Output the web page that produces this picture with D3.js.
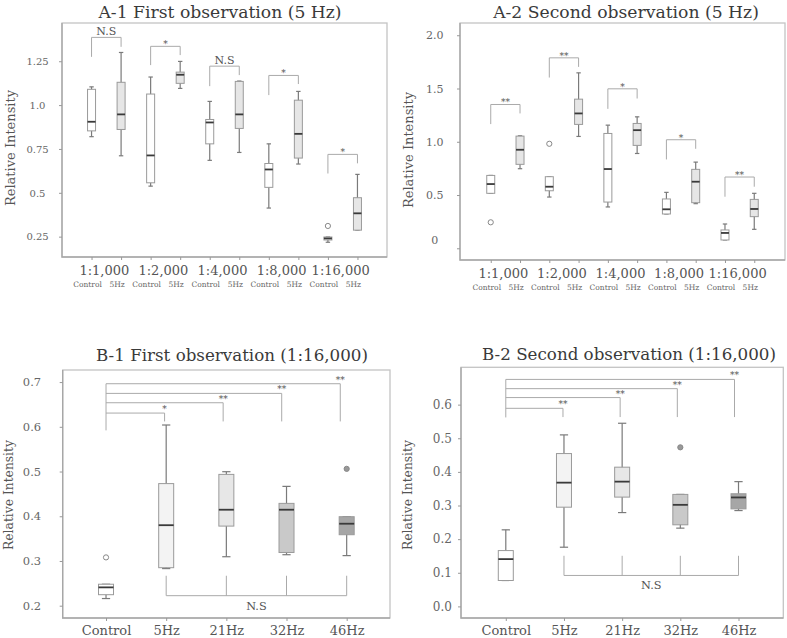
<!DOCTYPE html>
<html>
<head>
<meta charset="utf-8">
<script src="https://cdn.jsdelivr.net/npm/d3@7"></script>
<style>
	body { margin: 0; background: #fff; }
	svg { display: block; }
</style>
</head>
<body>
<div id="chart"></div>
<script>
// ---- A panels: dilution x (Control, 5Hz) ----
const dilutions = ['1:1,000', '1:2,000', '1:4,000', '1:8,000', '1:16,000'];
const pairGroups = ['Control', '5Hz'];

// box stats: [whiskerLow, q1, median, q3, whiskerHigh]
const a1Control = [
	[0.82, 0.853, 0.905, 1.09, 1.104],
	[0.538, 0.557, 0.713, 1.063, 1.16],
	[0.685, 0.779, 0.901, 0.918, 1.021],
	[0.413, 0.531, 0.633, 0.667, 0.779],
	[0.218, 0.231, 0.24, 0.248, 0.248]
];
const a1Hz5 = [
	[0.711, 0.861, 0.947, 1.13, 1.3],
	[1.095, 1.124, 1.173, 1.188, 1.249],
	[0.73, 0.867, 0.947, 1.135, 1.137],
	[0.664, 0.698, 0.836, 1.028, 1.078],
	[0.287, 0.287, 0.383, 0.472, 0.605]
];
// outliers: [dilution index, group index, value]
const a1Outliers = [[4, 0, 0.311]];
// brackets: [bar level, left leg end, right leg end, label]
const a1Brackets = [
	[1.386, 1.275, 1.332, 'N.S'],
	[1.335, 1.228, 1.285, '*'],
	[1.222, 1.108, 1.171, 'N.S'],
	[1.169, 1.057, 1.12, '*'],
	[0.719, 0.61, 0.668, '*']
];
const a1Ticks = [0.25, 0.5, 0.75, 1.0, 1.25];
const a1TickLabels = ['0.25', '0.5', '0.75', '1.0', '1.25'];

const a2Control = [
	[0.516, 0.516, 0.603, 0.684, 0.684],
	[0.481, 0.54, 0.578, 0.672, 0.672],
	[0.388, 0.434, 0.744, 1.078, 1.156],
	[0.322, 0.322, 0.366, 0.463, 0.525],
	[0.078, 0.078, 0.144, 0.172, 0.228]
];
const a2Hz5 = [
	[0.747, 0.788, 0.925, 1.053, 1.056],
	[1.05, 1.163, 1.266, 1.4, 1.647],
	[0.89, 0.966, 1.109, 1.172, 1.234],
	[0.419, 0.428, 0.625, 0.741, 0.809],
	[0.178, 0.297, 0.369, 0.459, 0.516]
];
const a2Outliers = [[0, 0, 0.244], [1, 0, 0.981]];
const a2Brackets = [
	[1.35, 1.166, 1.266, '**'],
	[1.788, 1.603, 1.703, '**'],
	[1.497, 1.309, 1.406, '*'],
	[1.019, 0.834, 0.934, '*'],
	[0.669, 0.484, 0.578, '**']
];
const a2Ticks = [0, 0.5, 1.0, 1.5, 2.0];
const a2TickLabels = ['0', '0.5', '1.0', '1.5', '2.0'];

// ---- B panels: frequency at 1:16,000 ----
const frequencies = ['Control', '5Hz', '21Hz', '32Hz', '46Hz'];
const freqFills = ['#ffffff', '#f3f3f3', '#e7e7e7', '#c9c9c9', '#a6a6a6'];

const b1Stats = [
	[0.216, 0.2246, 0.241, 0.248, 0.248],
	[0.283, 0.285, 0.38, 0.473, 0.604],
	[0.3095, 0.378, 0.4146, 0.4936, 0.4996],
	[0.314, 0.319, 0.4146, 0.4288, 0.4668],
	[0.312, 0.3587, 0.3833, 0.399, 0.399]
];
// outliers: [category index, value, filled]
const b1Outliers = [[0, 0.308, false], [4, 0.506, true]];
const b1SigLevels = [0.6307, 0.6538, 0.6747, 0.6963];
const b1SigLabels = ['*', '**', '**', '**'];
const b1SigLegs = [0.592, 0.612]; // control leg end, target leg end
const b1NsLegs = [0.267, 0.2224]; // leg top, bar level
const b1Ticks = [0.2, 0.3, 0.4, 0.5, 0.6, 0.7];

const b2Stats = [
	[0.077, 0.077, 0.1406, 0.166, 0.2277],
	[0.176, 0.295, 0.368, 0.4545, 0.51],
	[0.279, 0.325, 0.371, 0.414, 0.5446],
	[0.2327, 0.2426, 0.302, 0.333, 0.333],
	[0.285, 0.29, 0.324, 0.335, 0.371]
];
const b2Outliers = [[3, 0.473, true]];
const b2SigLevels = [0.589, 0.621, 0.6475, 0.675];
const b2SigLabels = ['**', '**', '**', '**'];
const b2SigLegs = [0.562, 0.563];
const b2NsLegs = [0.1505, 0.092];
const b2Ticks = [0, 0.1, 0.2, 0.3, 0.4, 0.5, 0.6];

const W = 787;
const H = 638;
const FONT = "'DejaVu Serif', 'Liberation Serif', serif";

const svg = d3
	.select('#chart')
	.append('svg')
	.attr('width', W)
	.attr('height', H)
	.attr('font-family', FONT);

const boxColors = { stroke: '#9a9a9a', whisker: '#7a7a7a', median: '#3a3a3a' };

const addText = (g, x, y, txt, size, fill, anchor = 'middle') =>
	g.append('text')
		.attr('x', x)
		.attr('y', y)
		.attr('text-anchor', anchor)
		.attr('fill', fill)
		.attr('font-family', FONT)
		.attr('font-size', size)
		.text(txt);

const drawFrame = (g, x0, y0, x1, y1) => {
	g.append('rect')
		.attr('x', x0)
		.attr('y', y0)
		.attr('width', x1 - x0)
		.attr('height', y1 - y0)
		.attr('fill', 'none')
		.attr('stroke', '#c4c4c4')
		.attr('stroke-width', 1.3);
	g.append('path')
		.attr('d', `M${x0},${y0}V${y1}H${x1}`)
		.attr('fill', 'none')
		.attr('stroke', '#a6a6a6')
		.attr('stroke-width', 1.3);
};

const drawYAxis = (g, yScale, x0, ticks, labels, labelCenter, fontSize) => {
	const axis = d3
		.axisLeft(yScale)
		.tickValues(ticks)
		.tickSize(3)
		.tickFormat((d, i) => labels[i]);
	const ag = g.append('g').attr('transform', `translate(${x0},0)`).call(axis);
	ag.attr('font-family', FONT).attr('font-size', fontSize);
	ag.select('.domain').remove();
	ag.selectAll('line').attr('stroke', '#999');
	ag.selectAll('text')
		.attr('x', -(x0 - labelCenter))
		.attr('text-anchor', 'middle')
		.attr('fill', '#666');
	return ag;
};

const drawBox = (g, x, yScale, s, bw, fill) => {
	const [lo, q1, med, q3, hi] = s;
	const cap = bw * 0.55;
	g.append('line')
		.attr('x1', x).attr('x2', x)
		.attr('y1', yScale(hi)).attr('y2', yScale(lo))
		.attr('stroke', boxColors.whisker).attr('stroke-width', 1.2);
	[lo, hi].forEach((v) => {
		g.append('line')
			.attr('x1', x - cap / 2).attr('x2', x + cap / 2)
			.attr('y1', yScale(v)).attr('y2', yScale(v))
			.attr('stroke', boxColors.whisker).attr('stroke-width', 1.2);
	});
	g.append('rect')
		.attr('x', x - bw / 2)
		.attr('y', yScale(q3))
		.attr('width', bw)
		.attr('height', Math.max(1, yScale(q1) - yScale(q3)))
		.attr('fill', fill)
		.attr('stroke', boxColors.stroke)
		.attr('stroke-width', 1);
	g.append('line')
		.attr('x1', x - bw / 2).attr('x2', x + bw / 2)
		.attr('y1', yScale(med)).attr('y2', yScale(med))
		.attr('stroke', boxColors.median).attr('stroke-width', 1.8);
};

const drawYTitle = (g, cx, cy, size) => {
	g.append('text')
		.attr('transform', `translate(${cx},${cy}) rotate(-90)`)
		.attr('text-anchor', 'middle')
		.attr('dominant-baseline', 'central')
		.attr('fill', '#555')
		.attr('font-family', FONT)
		.attr('font-size', size)
		.text('Relative Intensity');
};

// ---------- A panel ----------
const drawPanelA = (p) => {
	const g = svg.append('g');
	const slots = [];
	dilutions.forEach((d) => pairGroups.forEach((grp) => slots.push(d + '|' + grp)));

	const xScale = d3.scalePoint().domain(slots).range([p.x0, p.x1]).padding(p.pad);
	const yScale = d3.scaleLinear().domain(p.yDomain).range([p.y1, p.y0]);

	drawFrame(g, p.x0, p.y0, p.x1, p.y1);
	const ag = drawYAxis(g, yScale, p.x0, p.ticks, p.tickLabels, p.labelCenter, p.tickSize);
	if (p.zeroShift) {
		ag.selectAll('.tick text').filter((d) => d === 0).attr('y', -p.zeroShift);
	}

	// x ticks
	g.append('g')
		.attr('transform', `translate(0,${p.y1})`)
		.call(d3.axisBottom(xScale).tickSize(3).tickFormat(''))
		.call((ax) => ax.select('.domain').remove())
		.call((ax) => ax.selectAll('line').attr('stroke', '#999'));

	dilutions.forEach((d, i) => {
		const xc = xScale(d + '|Control');
		const xh = xScale(d + '|5Hz');
		drawBox(g, xc, yScale, p.control[i], p.bw, '#ffffff');
		drawBox(g, xh, yScale, p.hz5[i], p.bw, '#e6e6e6');

		addText(g, (xc + xh) / 2 - 2, p.y1 + p.labelDy, d, 13, '#555');
		pairGroups.forEach((grp) => {
			addText(g, xScale(d + '|' + grp) - 4, p.y1 + p.subDy, grp, 7.5, '#666');
		});

		const [level, leftEnd, rightEnd, label] = p.brackets[i];
		g.append('path')
			.attr('d', `M${xc},${yScale(leftEnd)}V${yScale(level)}H${xh}V${yScale(rightEnd)}`)
			.attr('fill', 'none')
			.attr('stroke', '#aaa')
			.attr('stroke-width', 1);
		const isNs = label === 'N.S';
		addText(g, (xc + xh) / 2, yScale(level) - (isNs ? 2 : -1), label, isNs ? 11 : 9, '#555');
	});

	p.outliers.forEach(([di, gi, v]) => {
		g.append('circle')
			.attr('cx', xScale(dilutions[di] + '|' + pairGroups[gi]))
			.attr('cy', yScale(v))
			.attr('r', 2.6)
			.attr('fill', '#fff')
			.attr('stroke', '#888')
			.attr('stroke-width', 1);
	});

	addText(g, p.titleX, p.titleY, p.title, 17.2, '#3a3a3a');
	drawYTitle(g, p.yTitleX, p.yTitleY, 13);
};

// ---------- B panel ----------
const drawPanelB = (p) => {
	const g = svg.append('g');
	const xScale = d3.scalePoint().domain(frequencies).range([p.x0, p.x1]).padding(p.pad);
	const yScale = d3.scaleLinear().domain(p.yDomain).range([p.y1, p.y0]);

	drawFrame(g, p.x0, p.y0, p.x1, p.y1);
	drawYAxis(g, yScale, p.x0, p.ticks, p.ticks.map((d) => d3.format('.1f')(d)), p.labelCenter, p.tickSize);

	g.append('g')
		.attr('transform', `translate(0,${p.y1})`)
		.call(d3.axisBottom(xScale).tickSize(3))
		.call((ax) => ax.attr('font-family', FONT).attr('font-size', 13))
		.call((ax) => ax.select('.domain').remove())
		.call((ax) => ax.selectAll('line').attr('stroke', '#999'))
		.call((ax) => ax.selectAll('text').attr('y', 17).attr('dy', 0).attr('fill', '#555'));

	frequencies.forEach((f, i) => {
		drawBox(g, xScale(f), yScale, p.stats[i], p.bw, freqFills[i]);
	});

	p.outliers.forEach(([ci, v, filled]) => {
		g.append('circle')
			.attr('cx', xScale(frequencies[ci]))
			.attr('cy', yScale(v))
			.attr('r', 2.6)
			.attr('fill', filled ? '#999' : '#fff')
			.attr('stroke', '#888')
			.attr('stroke-width', 1);
	});

	// significance brackets from control to each frequency
	const xc = xScale('Control');
	g.append('line')
		.attr('x1', xc).attr('x2', xc)
		.attr('y1', yScale(p.sigLegs[0])).attr('y2', yScale(d3.max(p.sigLevels)))
		.attr('stroke', '#aaa').attr('stroke-width', 1);
	p.sigLevels.forEach((lvl, i) => {
		const xt = xScale(frequencies[i + 1]) - p.legDrift * (i + 1);
		g.append('path')
			.attr('d', `M${xc},${yScale(lvl)}H${xt}V${yScale(p.sigLegs[1])}`)
			.attr('fill', 'none')
			.attr('stroke', '#aaa')
			.attr('stroke-width', 1);
		addText(g, xt, yScale(lvl) - 1, p.sigLabels[i], 9, '#555');
	});

	// N.S bracket across frequencies
	const xs = frequencies.slice(1).map((f) => xScale(f));
	g.append('line')
		.attr('x1', xs[0]).attr('x2', xs[xs.length - 1])
		.attr('y1', yScale(p.nsLegs[1])).attr('y2', yScale(p.nsLegs[1]))
		.attr('stroke', '#aaa').attr('stroke-width', 1);
	xs.forEach((x) => {
		g.append('line')
			.attr('x1', x).attr('x2', x)
			.attr('y1', yScale(p.nsLegs[0])).attr('y2', yScale(p.nsLegs[1]))
			.attr('stroke', '#aaa').attr('stroke-width', 1);
	});
	addText(g, (xs[1] + xs[2]) / 2, yScale(p.nsLegs[1]) + 14, 'N.S', 11.3, '#555');

	addText(g, p.titleX, p.titleY, p.title, 16.7, '#3a3a3a');
	drawYTitle(g, p.yTitleX, p.yTitleY, 12.3);
};

drawPanelA({
	title: 'A-1 First observation (5 Hz)', titleX: 220, titleY: 18,
	x0: 62, x1: 387, y0: 23, y1: 257, pad: 1.0,
	yDomain: [0.134, 1.468], ticks: a1Ticks, tickLabels: a1TickLabels,
	labelCenter: 37.5, tickSize: 10,
	control: a1Control, hz5: a1Hz5, outliers: a1Outliers, brackets: a1Brackets,
	bw: 8, labelDy: 18, subDy: 30, yTitleX: 10, yTitleY: 148
});

drawPanelA({
	title: 'A-2 Second observation (5 Hz)', titleX: 626, titleY: 18,
	x0: 460, x1: 785, y0: 23, y1: 260, pad: 1.05,
	yDomain: [-0.11, 2.115], ticks: a2Ticks, tickLabels: a2TickLabels,
	labelCenter: 434.7, tickSize: 11, zeroShift: 8,
	control: a2Control, hz5: a2Hz5, outliers: a2Outliers, brackets: a2Brackets,
	bw: 8, labelDy: 18, subDy: 30, yTitleX: 408, yTitleY: 150
});

drawPanelB({
	title: 'B-1 First observation (1:16,000)', titleX: 232, titleY: 361,
	x0: 62.7, x1: 390, y0: 370, y1: 618, pad: 0.72,
	yDomain: [0.1725, 0.727], ticks: b1Ticks, labelCenter: 32, tickSize: 11.5,
	stats: b1Stats, outliers: b1Outliers,
	sigLevels: b1SigLevels, sigLabels: b1SigLabels, sigLegs: b1SigLegs, nsLegs: b1NsLegs,
	legDrift: 1.6, bw: 15, yTitleX: 9, yTitleY: 495
});

drawPanelB({
	title: 'B-2 Second observation (1:16,000)', titleX: 629, titleY: 360,
	x0: 461, x1: 783.3, y0: 367.3, y1: 618, pad: 0.77,
	yDomain: [-0.0345, 0.711], ticks: b2Ticks, labelCenter: 442.3, tickSize: 12,
	stats: b2Stats, outliers: b2Outliers,
	sigLevels: b2SigLevels, sigLabels: b2SigLabels, sigLegs: b2SigLegs, nsLegs: b2NsLegs,
	legDrift: 1, bw: 15, yTitleX: 408.3, yTitleY: 495
});
</script>
</body>
</html>
